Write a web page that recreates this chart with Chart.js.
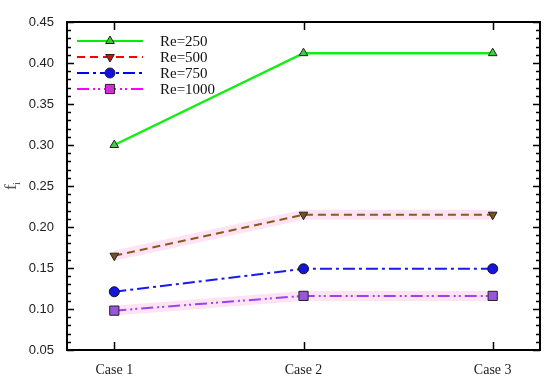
<!DOCTYPE html>
<html>
<head>
<meta charset="utf-8">
<script src="https://cdn.jsdelivr.net/npm/chart.js@4/dist/chart.umd.min.js"></script>
<style>
  html, body { margin: 0; padding: 0; background: #fff; }
  #wrap { width: 550px; height: 382px; }
</style>
</head>
<body>
<div id="wrap"><canvas id="chart" width="550" height="382"></canvas></div>
<script>
// data
const caseLabels = ['Case 1', 'Case 2', 'Case 3'];
const casePos = [1, 2, 3];
const re250 = [0.300, 0.412, 0.412];
const re500 = [0.165, 0.215, 0.215];
const re750 = [0.121, 0.149, 0.149];
const re1000 = [0.098, 0.116, 0.116];
const seriesNames = ['Re=250', 'Re=500', 'Re=750', 'Re=1000'];
const yTicks = [0.05, 0.10, 0.15, 0.20, 0.25, 0.30, 0.35, 0.40, 0.45];

function pts(vals) {
  return casePos.map((c, i) => ({ x: c, y: vals[i] }));
}

// legend uses brighter colours than the plotted lines (as in the figure)
const legendStyle = [
  { line: '#00ee00', dash: [], fill: '#33cc33', point: 'triangle', rot: 0 },
  { line: '#ff0000', dash: [8, 5], fill: '#cc1111', point: 'triangle', rot: 180 },
  { line: '#0000ff', dash: [12, 4, 3, 4], fill: '#1111dd', point: 'circle', rot: 0 },
  { line: '#ff00ff', dash: [12, 4, 2, 3, 2, 4], fill: '#cc33cc', point: 'rect', rot: 0 }
];

const halo = '#fde3f3';

// frame, inward ticks, custom legend and axis title
const decor = {
  id: 'decor',
  afterDatasetsDraw(chart) {
    const { ctx, chartArea: a, scales } = chart;
    const ys = scales.y, xs = scales.x;
    ctx.save();
    ctx.strokeStyle = '#000';
    ctx.lineWidth = 1.5;
    ctx.beginPath();
    // minor ticks every 0.01, major every 0.05
    for (let k = 5; k <= 45; k++) {
      const py = Math.round(ys.getPixelForValue(k / 100)) + 0.5;
      const len = (k % 5 === 0) ? 7 : 4;
      ctx.moveTo(a.left, py); ctx.lineTo(a.left + len, py);
      ctx.moveTo(a.right, py); ctx.lineTo(a.right - len, py);
    }
    casePos.forEach(c => {
      const px = Math.round(xs.getPixelForValue(c)) + 0.5;
      ctx.moveTo(px, a.bottom); ctx.lineTo(px, a.bottom - 8);
      ctx.moveTo(px, a.top); ctx.lineTo(px, a.top + 8);
    });
    ctx.stroke();
    ctx.lineWidth = 2;
    ctx.strokeRect(a.left, a.top, a.right - a.left, a.bottom - a.top);

    // legend
    const rowY = [41, 57, 73, 89];
    legendStyle.forEach((s, i) => {
      const y = rowY[i];
      ctx.save();
      ctx.strokeStyle = s.line;
      ctx.lineWidth = 2;
      ctx.setLineDash(s.dash);
      ctx.beginPath();
      ctx.moveTo(77, y); ctx.lineTo(143, y);
      ctx.stroke();
      ctx.restore();
      ctx.save();
      ctx.fillStyle = s.fill;
      ctx.strokeStyle = '#222';
      ctx.lineWidth = 1;
      Chart.helpers.drawPoint(ctx, { pointStyle: s.point, rotation: s.rot, radius: s.point === 'rect' ? 6.5 : 5, borderWidth: 1 }, 110, y);
      ctx.restore();
      ctx.fillStyle = '#111';
      ctx.font = '15px "Liberation Serif", serif';
      ctx.textBaseline = 'middle';
      ctx.fillText(seriesNames[i], 160, y + 1);
    });

    // y title: f with subscript i
    ctx.translate(16, 186);
    ctx.rotate(-Math.PI / 2);
    ctx.fillStyle = '#555';
    ctx.textBaseline = 'alphabetic';
    ctx.font = '17px "Liberation Serif", serif';
    ctx.fillText('f', -4, 0);
    ctx.font = '11px "Liberation Serif", serif';
    ctx.fillText('i', 1, 4);
    ctx.restore();
  }
};

const ctx = document.getElementById('chart').getContext('2d');
new Chart(ctx, {
  type: 'line',
  data: {
    datasets: [
      { label: 'halo500', data: pts(re500), borderColor: halo, borderWidth: 10, pointRadius: 0, order: 10 },
      { label: 'halo1000', data: pts(re1000), borderColor: halo, borderWidth: 10, pointRadius: 0, order: 10 },
      { label: seriesNames[0], data: pts(re250), borderColor: '#11ee11', borderWidth: 2.5,
        pointStyle: 'triangle', pointRadius: 5, pointBackgroundColor: '#44cc44', pointBorderColor: '#222', pointBorderWidth: 1, order: 1 },
      { label: seriesNames[1], data: pts(re500), borderColor: '#8a5a1e', borderWidth: 2, borderDash: [8, 5],
        pointStyle: 'triangle', rotation: 180, pointRadius: 5, pointBackgroundColor: '#7a5018', pointBorderColor: '#222', pointBorderWidth: 1, order: 1 },
      { label: seriesNames[2], data: pts(re750), borderColor: '#1a1aee', borderWidth: 2, borderDash: [12, 4, 3, 4],
        pointStyle: 'circle', pointRadius: 5, pointBackgroundColor: '#1515dd', pointBorderColor: '#111', pointBorderWidth: 1, order: 1 },
      { label: seriesNames[3], data: pts(re1000), borderColor: '#9a44ee', borderWidth: 2, borderDash: [12, 4, 2, 3, 2, 4],
        pointStyle: 'rect', pointRadius: 6.5, pointBackgroundColor: '#9a55dd', pointBorderColor: '#222', pointBorderWidth: 1, order: 1 }
    ]
  },
  options: {
    responsive: false,
    animation: false,
    layout: { padding: { top: 22, right: 10, left: 0, bottom: 0 } },
    plugins: { legend: { display: false }, tooltip: { enabled: false } },
    scales: {
      x: {
        type: 'linear', min: 0.75, max: 3.25,
        afterBuildTicks(s) { s.ticks = casePos.map(v => ({ value: v })); },
        afterFit(s) { s.height = 32; },
        grid: { display: false },
        border: { display: false },
        ticks: {
          callback: (v) => caseLabels[casePos.indexOf(v)] || '',
          color: '#222', padding: 4, maxRotation: 0,
          font: { family: '"Liberation Serif", serif', size: 14 }
        }
      },
      y: {
        min: 0.05, max: 0.45,
        afterBuildTicks(s) { s.ticks = yTicks.map(v => ({ value: v })); },
        afterFit(s) { s.width = 67; },
        grid: { display: false },
        border: { display: false },
        ticks: {
          callback: (v) => v.toFixed(2),
          color: '#222', padding: 5,
          font: { family: '"Liberation Sans", Arial, sans-serif', size: 13 }
        }
      }
    }
  },
  plugins: [decor]
});
</script>
</body>
</html>
